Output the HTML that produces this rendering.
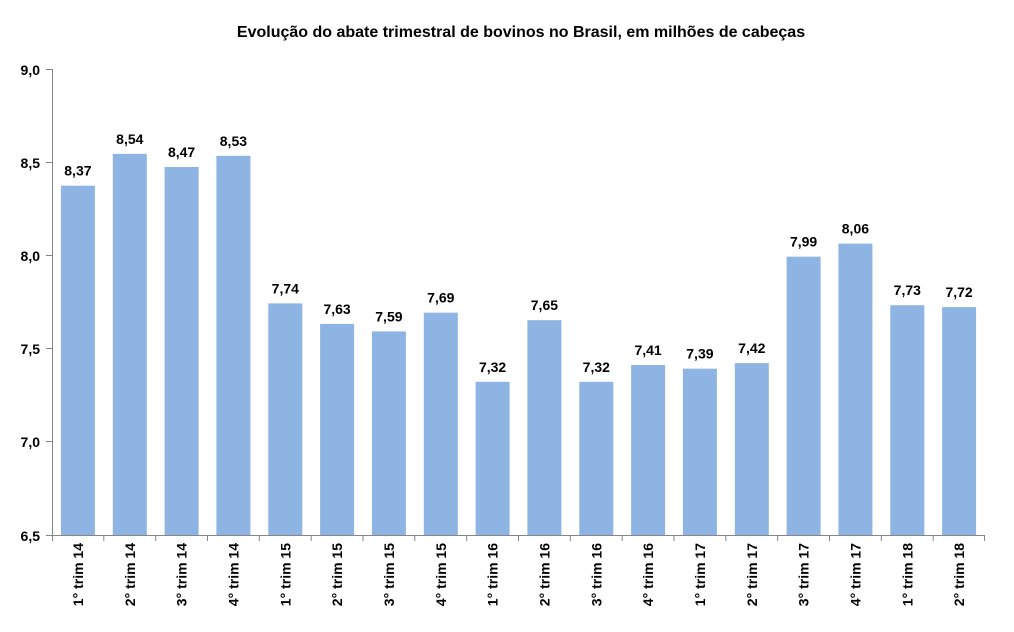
<!DOCTYPE html>
<html><head><meta charset="utf-8"><style>
html,body{margin:0;padding:0;background:#fff;}
svg{display:block;font-family:"Liberation Sans",Arial,sans-serif;}
</style></head><body>
<svg width="1014" height="632" viewBox="0 0 1014 632" xmlns="http://www.w3.org/2000/svg">
<text x="521" y="37" text-anchor="middle" font-size="16" font-weight="bold" fill="#000">Evolução do abate trimestral de bovinos no Brasil, em milhões de cabeças</text>
<g fill="#8EB4E3">
<rect x="60.9" y="185.7" width="34" height="349.3"/>
<rect x="112.8" y="153.9" width="34" height="381.1"/>
<rect x="164.6" y="167.0" width="34" height="368.0"/>
<rect x="216.4" y="155.8" width="34" height="379.2"/>
<rect x="268.3" y="303.4" width="34" height="231.6"/>
<rect x="320.1" y="323.9" width="34" height="211.1"/>
<rect x="371.9" y="331.4" width="34" height="203.6"/>
<rect x="423.8" y="312.7" width="34" height="222.3"/>
<rect x="475.6" y="381.8" width="34" height="153.2"/>
<rect x="527.4" y="320.2" width="34" height="214.8"/>
<rect x="579.3" y="381.8" width="34" height="153.2"/>
<rect x="631.1" y="365.0" width="34" height="170.0"/>
<rect x="682.9" y="368.7" width="34" height="166.3"/>
<rect x="734.8" y="363.1" width="34" height="171.9"/>
<rect x="786.6" y="256.7" width="34" height="278.3"/>
<rect x="838.4" y="243.6" width="34" height="291.4"/>
<rect x="890.3" y="305.2" width="34" height="229.8"/>
<rect x="942.1" y="307.1" width="34" height="227.9"/>
</g>
<g stroke="#868686" stroke-width="1">
<line x1="52.5" y1="69" x2="52.5" y2="535"/>
<line x1="52" y1="535.5" x2="985" y2="535.5"/>
<line x1="46" y1="69.5" x2="52" y2="69.5"/>
<line x1="46" y1="162.5" x2="52" y2="162.5"/>
<line x1="46" y1="255.5" x2="52" y2="255.5"/>
<line x1="46" y1="348.5" x2="52" y2="348.5"/>
<line x1="46" y1="441.5" x2="52" y2="441.5"/>
<line x1="46" y1="535.5" x2="52" y2="535.5"/>
<path d="M52.5 535v6M103.8 535v6M155.7 535v6M207.5 535v6M259.3 535v6M311.2 535v6M363 535v6M414.8 535v6M466.7 535v6M518.5 535v6M570.3 535v6M622.2 535v6M674 535v6M725.8 535v6M777.7 535v6M829.5 535v6M881.3 535v6M933.2 535v6M984.5 535v6"/>
</g>
<g font-size="14" font-weight="bold" text-anchor="end" fill="#000">
<text x="40" y="75">9,0</text>
<text x="40" y="168">8,5</text>
<text x="40" y="261">8,0</text>
<text x="40" y="354">7,5</text>
<text x="40" y="447">7,0</text>
<text x="40" y="541">6,5</text>
</g>
<g font-size="14" font-weight="bold" text-anchor="middle" fill="#000">
<text x="77.9" y="175.7">8,37</text>
<text x="129.8" y="143.9">8,54</text>
<text x="181.6" y="157.0">8,47</text>
<text x="233.4" y="145.8">8,53</text>
<text x="285.3" y="293.4">7,74</text>
<text x="337.1" y="313.9">7,63</text>
<text x="388.9" y="321.4">7,59</text>
<text x="440.8" y="302.7">7,69</text>
<text x="492.6" y="371.8">7,32</text>
<text x="544.4" y="310.2">7,65</text>
<text x="596.3" y="371.8">7,32</text>
<text x="648.1" y="355.0">7,41</text>
<text x="699.9" y="358.7">7,39</text>
<text x="751.8" y="353.1">7,42</text>
<text x="803.6" y="246.7">7,99</text>
<text x="855.4" y="233.6">8,06</text>
<text x="907.3" y="295.2">7,73</text>
<text x="959.1" y="297.1">7,72</text>
</g>
<g font-size="14" font-weight="bold" text-anchor="end" fill="#000">
<text transform="translate(82.9,543) rotate(-90)">1° trim 14</text>
<text transform="translate(134.8,543) rotate(-90)">2° trim 14</text>
<text transform="translate(186.6,543) rotate(-90)">3° trim 14</text>
<text transform="translate(238.4,543) rotate(-90)">4° trim 14</text>
<text transform="translate(290.3,543) rotate(-90)">1° trim 15</text>
<text transform="translate(342.1,543) rotate(-90)">2° trim 15</text>
<text transform="translate(393.9,543) rotate(-90)">3° trim 15</text>
<text transform="translate(445.8,543) rotate(-90)">4° trim 15</text>
<text transform="translate(497.6,543) rotate(-90)">1° trim 16</text>
<text transform="translate(549.4,543) rotate(-90)">2° trim 16</text>
<text transform="translate(601.3,543) rotate(-90)">3° trim 16</text>
<text transform="translate(653.1,543) rotate(-90)">4° trim 16</text>
<text transform="translate(704.9,543) rotate(-90)">1° trim 17</text>
<text transform="translate(756.8,543) rotate(-90)">2° trim 17</text>
<text transform="translate(808.6,543) rotate(-90)">3° trim 17</text>
<text transform="translate(860.4,543) rotate(-90)">4° trim 17</text>
<text transform="translate(912.3,543) rotate(-90)">1° trim 18</text>
<text transform="translate(964.1,543) rotate(-90)">2° trim 18</text>
</g>
</svg>
</body></html>
